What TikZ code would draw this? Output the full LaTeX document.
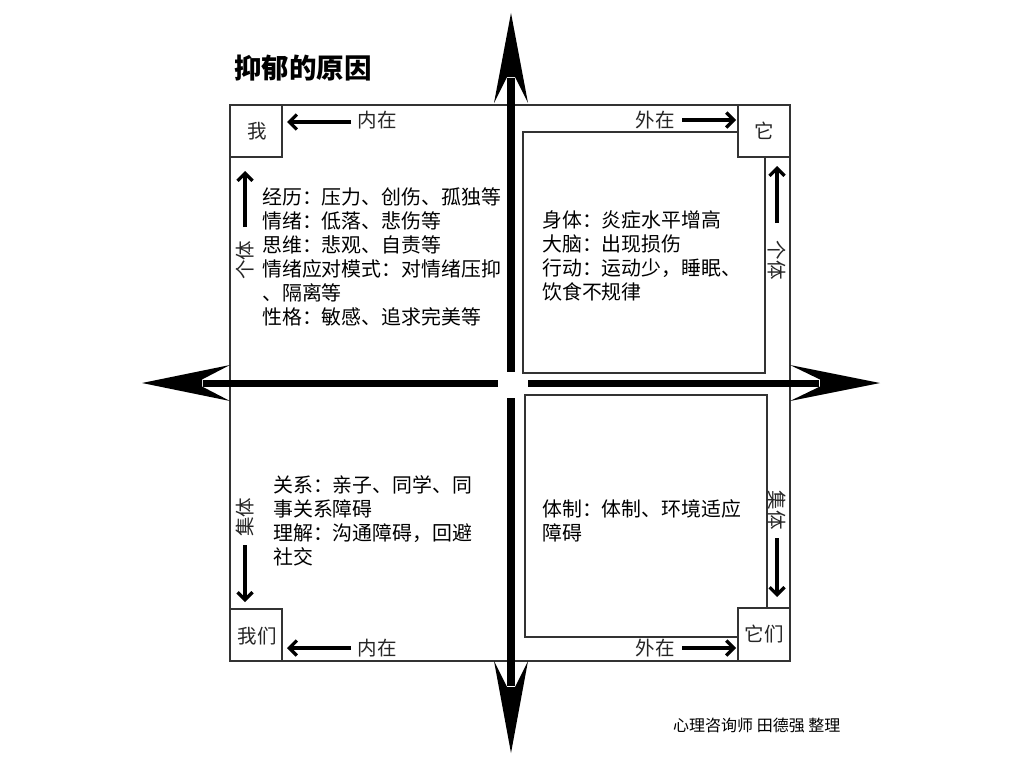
\documentclass[tikz,border=0pt]{standalone}
\usepackage{fontspec}
\setmainfont{Noto Sans CJK SC}
\newfontfamily\cjk{Noto Sans CJK SC}
\usetikzlibrary{arrows.meta}
\tikzset{
  frame/.style={draw=black!80, line width=1.4pt},
  cornerbox/.style={draw=black!80, line width=1.4pt, fill=white},
  body/.style={font=\cjk\fontsize{19.9}{24}\selectfont, align=left, anchor=north west, inner sep=0pt, text=black},
  lab/.style={font=\cjk\fontsize{19.5}{22}\selectfont, inner sep=0pt, text=black!85},
  barrow/.style={line width=3.2pt, -{Straight Barb[length=7.5pt,width=15pt,line width=3.2pt]}},
  bighead/.style={fill=black, draw=none},
}
\begin{document}
\begin{tikzpicture}[x=1pt,y=-1pt]
\useasboundingbox (0,0) rectangle (1024,768);
\fill[white] (0,0) rectangle (1024,768);

% title
\node[font=\cjk\bfseries\fontsize{27.5}{30}\selectfont, anchor=west, inner sep=0pt] (title) at (234,68) {抑郁的原因};

% outer frame
\draw[frame] (230,105) rectangle (790,661);
% inner rectangles (right quadrants)
\draw[frame] (523,132) rectangle (765,373);
\draw[frame] (525,395) rectangle (767,637);

% corner boxes
\draw[cornerbox] (230,105) rectangle (282,157);
\draw[cornerbox] (738,105) rectangle (790,157);
\draw[cornerbox] (230,609) rectangle (282,661);
\draw[cornerbox] (738,608) rectangle (790,661);
\node[lab] (wo) at (257,131) {我};
\node[lab] (ta) at (764,131) {它};
\node[lab] (women) at (257,636) {我们};
\node[lab] (tamen) at (764,634) {它们};

% big axes
\coordinate (up) at (511,13);
\coordinate (down) at (511,753);
\coordinate (left) at (142,383);
\coordinate (right) at (880,383);
\fill[bighead] (up) -- (528,103) -- (515,77) -- (507,77) -- (494,103) -- cycle;
\draw[line width=8pt] (511,78) -- (511,372);
\fill[bighead] (down) -- (528,661) -- (515,687) -- (507,687) -- (494,661) -- cycle;
\draw[line width=8pt] (511,398) -- (511,686);
\fill[bighead] (left) -- (230,365) -- (202,379.5) -- (202,386.5) -- (230,401) -- cycle;
\draw[line width=7pt] (203,383) -- (498,383);
\fill[bighead] (right) -- (790,365) -- (820,379.5) -- (820,386.5) -- (790,401) -- cycle;
\draw[line width=7pt] (528,383) -- (819,383);

% border labels and arrows
\node[lab] (nz1) at (377,120) {内在};
\coordinate (nz1e) at (287,122);
\draw[barrow] (351,122) -- (nz1e);
\node[lab] (nz2) at (377,648) {内在};
\coordinate (nz2e) at (287,648);
\draw[barrow] (351,648) -- (nz2e);
\node[lab] (wz1) at (655,120) {外在};
\coordinate (wz1e) at (736,120);
\draw[barrow] (682,120) -- (wz1e);
\node[lab] (wz2) at (655,648) {外在};
\coordinate (wz2e) at (736,648);
\draw[barrow] (682,648) -- (wz2e);

\node[lab, rotate=90] (gt1) at (245,260) {个体};
\coordinate (gt1e) at (245,171);
\draw[barrow] (245,227) -- (gt1e);
\node[lab, rotate=-90] (gt2) at (777,260) {个体};
\coordinate (gt2e) at (777,166);
\draw[barrow] (777,223) -- (gt2e);
\node[lab, rotate=90] (jt1) at (245,517) {集体};
\coordinate (jt1e) at (245,602);
\draw[barrow] (245,545) -- (jt1e);
\node[lab, rotate=-90] (jt2) at (777,510) {集体};
\coordinate (jt2e) at (777,597);
\draw[barrow] (777,538) -- (jt2e);

% quadrant texts
\node[body] (tl) at (262,187) {经历：压力、创伤、孤独等\\情绪：低落、悲伤等\\思维：悲观、自责等\\情绪应对模式：对情绪压抑\\、隔离等\\性格：敏感、追求完美等};
\node[body] (tr) at (542,211) {身体：炎症水平增高\\大脑：出现损伤\\行动：运动少，睡眠、\\饮食不规律};
\node[body] (bl) at (273,475) {关系：亲子、同学、同\\事关系障碍\\理解：沟通障碍，回避\\社交};
\node[body] (br) at (542,499) {体制：体制、环境适应\\障碍};

% footer
\node[font=\cjk\fontsize{16}{18}\selectfont, anchor=west, inner sep=0pt] (foot) at (673,725) {心理咨询师 田德强 整理};
\end{tikzpicture}
\end{document}
